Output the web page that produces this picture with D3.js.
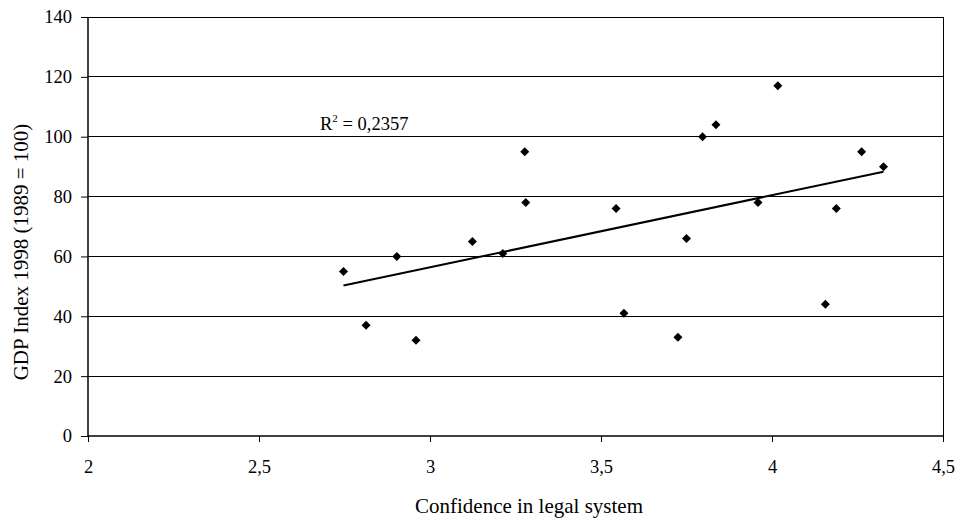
<!DOCTYPE html>
<html><head><meta charset="utf-8">
<script src="https://cdn.jsdelivr.net/npm/d3@7"></script>
<style>body{margin:0;background:#fff}text{font-family:"Liberation Serif","Times New Roman",serif;fill:#000}</style>
</head><body><svg id="c" width="957" height="518"></svg>
<script>
const confidence = [2.747, 2.813, 2.903, 2.959, 3.124, 3.213, 3.277, 3.280, 3.544, 3.567, 3.725, 3.750, 3.797, 3.836, 3.959, 4.017, 4.156, 4.188, 4.262, 4.326];
const gdpIndex   = [55, 37, 60, 32, 65, 61, 95, 78, 76, 41, 33, 66, 100, 104, 78, 117, 44, 76, 95, 90];
const xTicks = [2, 2.5, 3, 3.5, 4, 4.5];
const yTicks = [0, 20, 40, 60, 80, 100, 120, 140];
const r2Label = "0,2357";

const svg = d3.select("#c");
const L = 88, R = 943, T = 17, B = 436;
const x = d3.scaleLinear().domain([2, 4.5]).range([L, R]);
const y = d3.scaleLinear().domain([0, 140]).range([B, T]);
const fmt = d => String(d).replace(".", ",");
const SERIF = '"Liberation Serif", "Times New Roman", serif';

// gridlines
svg.append("g").selectAll("line").data(yTicks.filter(d => d > 0)).join("line")
  .attr("x1", L).attr("x2", R).attr("y1", d => y(d)).attr("y2", d => y(d))
  .attr("stroke", "#000").attr("stroke-width", 1).attr("shape-rendering", "crispEdges");
// right border
svg.append("line").attr("x1", R).attr("x2", R).attr("y1", T).attr("y2", B)
  .attr("stroke", "#000").attr("shape-rendering", "crispEdges");

// axes
const yAxis = d3.axisLeft(y).tickValues(yTicks).tickSize(7).tickPadding(9).tickFormat(fmt);
const gy = svg.append("g").attr("transform", `translate(${L},0)`).call(yAxis);
const xAxis = d3.axisBottom(x).tickValues(xTicks).tickSize(6).tickPadding(18).tickFormat(fmt);
const gx = svg.append("g").attr("transform", `translate(0,${B})`).call(xAxis);
[gx, gy].forEach(g => {
  g.attr("font-family", null).attr("font-size", null);
  g.select(".domain").attr("stroke", "#000").attr("stroke-width", 1.5);
  g.selectAll(".tick line").attr("stroke", "#000");
  g.selectAll("text").style("font-family", SERIF).style("font-size", "18.5px").attr("fill", "#000");
});
gx.select(".domain").attr("d", `M${L},0H${R}`);
gy.select(".domain").attr("d", `M0,${B}V${T}`);

// trendline (least squares)
const n = confidence.length;
const mx = d3.mean(confidence), my = d3.mean(gdpIndex);
let sxy = 0, sxx = 0;
for (let i = 0; i < n; i++) { sxy += (confidence[i]-mx)*(gdpIndex[i]-my); sxx += (confidence[i]-mx)**2; }
const b = sxy / sxx, a = my - b * mx;
const x0 = d3.min(confidence), x1 = d3.max(confidence);
svg.append("line").attr("x1", x(x0)).attr("y1", y(a + b*x0)).attr("x2", x(x1)).attr("y2", y(a + b*x1))
  .attr("stroke", "#000").attr("stroke-width", 2);

// points
svg.append("g").selectAll("path").data(confidence.map((c, i) => [c, gdpIndex[i]])).join("path")
  .attr("d", d => `M${x(d[0])},${y(d[1])-4.5}l4.5,4.5l-4.5,4.5l-4.5,-4.5z`)
  .attr("fill", "#000");

// R² label
const t = svg.append("text").attr("x", 320).attr("y", 130).style("font-size", "18.5px");
t.append("tspan").text("R");
t.append("tspan").attr("dy", -8).style("font-size", "11px").text("2");
t.append("tspan").attr("dy", 8).text(" = " + r2Label);

// axis titles
svg.append("text").attr("x", 529).attr("y", 513).attr("text-anchor", "middle").style("font-size", "21px")
  .text("Confidence in legal system");
svg.append("text").attr("transform", "translate(28,252) rotate(-90)").attr("text-anchor", "middle").style("font-size", "21px")
  .text("GDP Index 1998 (1989 = 100)");
</script></body></html>
